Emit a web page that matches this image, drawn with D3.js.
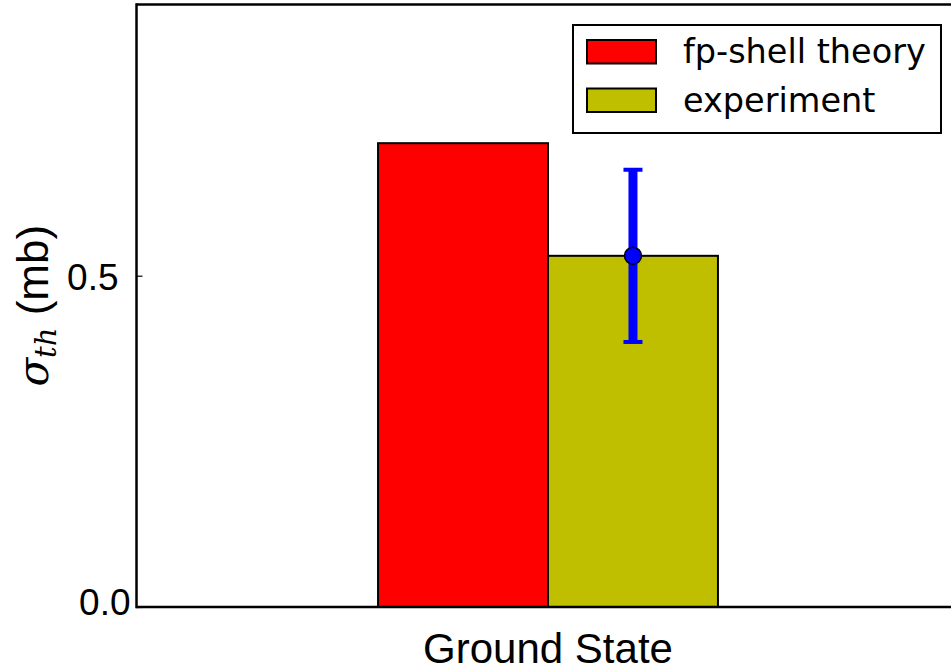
<!DOCTYPE html>
<html>
<head>
<meta charset="utf-8">
<script src="https://cdn.jsdelivr.net/npm/d3@7"></script>
<style>
  html, body { margin: 0; padding: 0; background: #fff; }
  svg { display: block; }
</style>
</head>
<body>
<svg id="chart" width="951" height="672"></svg>
<script>
// ---- data ----
const categories = ["Ground State"];
const seriesNames = ["fp-shell theory", "experiment"];
const theoryValues = [0.70];
const experimentValues = [0.53];
const experimentErrors = [0.13];
const yTicks = [0.0, 0.5];
const yTickLabels = ["0.0", "0.5"];

// ---- layout ----
const W = 951, H = 672;
const plot = { left: 136.5, top: 4.5, right: 959.5, bottom: 607 };
const colors = ["#ff0000", "#bfbf00"];

const svg = d3.select("#chart");

const x = d3.scaleLinear().domain([0, 2]).range([plot.left, plot.right]);
const y = d3.scaleLinear().domain([0, 0.9093]).range([plot.bottom, plot.top]);
const barW = 0.413;
const catPos = categories.map((c, i) => i + 1);

svg.append("defs").append("clipPath").attr("id", "clip")
  .append("rect").attr("x", plot.left).attr("y", plot.top)
  .attr("width", plot.right - plot.left).attr("height", plot.bottom - plot.top);

const g = svg.append("g").attr("clip-path", "url(#clip)");

// bars
const seriesData = [theoryValues, experimentValues];
seriesData.forEach((vals, s) => {
  g.selectAll(null).data(vals).enter().append("rect")
    .attr("x", (d, i) => s === 0 ? x(catPos[i] - barW) : x(catPos[i]))
    .attr("y", d => y(d))
    .attr("width", x(barW) - x(0))
    .attr("height", d => y(0) - y(d))
    .attr("fill", colors[s])
    .attr("stroke", "#000")
    .attr("stroke-width", 2);
});

// error bars
experimentValues.forEach((v, i) => {
  const cx = x(catPos[i] + barW / 2);
  const e = experimentErrors[i];
  g.append("line").attr("x1", cx).attr("x2", cx)
    .attr("y1", y(v - e)).attr("y2", y(v + e))
    .attr("stroke", "#0000ff").attr("stroke-width", 9);
  [v - e, v + e].forEach(t => {
    g.append("line").attr("x1", cx - 9.5).attr("x2", cx + 9.5)
      .attr("y1", y(t)).attr("y2", y(t))
      .attr("stroke", "#0000ff").attr("stroke-width", 4);
  });
  g.append("circle").attr("cx", cx).attr("cy", y(v)).attr("r", 8.5)
    .attr("fill", "#0000ff").attr("stroke", "#000").attr("stroke-width", 1.5);
});

// axes frame
svg.append("line").attr("x1", plot.left).attr("x2", W + 5).attr("y1", plot.top).attr("y2", plot.top)
  .attr("stroke", "#000").attr("stroke-width", 2.5);
svg.append("line").attr("x1", plot.left).attr("x2", W + 5).attr("y1", plot.bottom).attr("y2", plot.bottom)
  .attr("stroke", "#000").attr("stroke-width", 2.5);
svg.append("line").attr("x1", plot.left).attr("x2", plot.left).attr("y1", plot.top - 1.25).attr("y2", plot.bottom + 1.25)
  .attr("stroke", "#000").attr("stroke-width", 2.5);

// y axis ticks (inside) and labels
const yAxis = d3.axisLeft(y).tickValues(yTicks).tickSizeInner(-6).tickSizeOuter(0)
  .tickPadding(18).tickFormat((d, i) => yTickLabels[i]);
const ya = svg.append("g").attr("transform", `translate(${plot.left},0)`).call(yAxis);
ya.select(".domain").remove();
ya.selectAll(".tick line").attr("stroke", "#000").attr("stroke-width", 1.2);
ya.selectAll(".tick text").attr("font-family", "Liberation Sans, Arial, sans-serif")
  .attr("font-size", 37).attr("fill", "#000").attr("dy", "0.36em");
ya.selectAll(".tick text").filter(d => d === 0).attr("dx", 12).attr("dy", "0.2em");

// x category label
svg.selectAll(".xcat").data(categories).enter().append("text")
  .attr("x", (d, i) => x(catPos[i])).attr("y", 663)
  .attr("text-anchor", "middle")
  .attr("font-family", "Liberation Sans, Arial, sans-serif").attr("font-size", 42)
  .attr("fill", "#000").text(d => d);

// y label
const yl = svg.append("text")
  .attr("transform", `translate(48,${(plot.top + plot.bottom) / 2}) rotate(-90)`)
  .attr("text-anchor", "middle").attr("fill", "#000");
yl.append("tspan").attr("font-family", "DejaVu Serif, serif").attr("font-style", "italic")
  .attr("font-size", 42).text("σ");
yl.append("tspan").attr("font-family", "DejaVu Serif, serif").attr("font-style", "italic")
  .attr("font-size", 29).attr("dy", 8).text("th");
yl.append("tspan").attr("font-family", "Liberation Sans, Arial, sans-serif")
  .attr("font-size", 44).attr("dy", -8).text("\u00a0(mb)");

// legend
const lg = svg.append("g");
lg.append("rect").attr("x", 573).attr("y", 25).attr("width", 368).attr("height", 108)
  .attr("fill", "#fff").attr("stroke", "#000").attr("stroke-width", 2);
seriesNames.forEach((name, i) => {
  const yy = 40 + i * 48.5;
  lg.append("rect").attr("x", 587).attr("y", yy).attr("width", 69).attr("height", 23.5)
    .attr("fill", colors[i]).attr("stroke", "#000").attr("stroke-width", 2);
  lg.append("text").attr("x", 683).attr("y", yy + 23)
    .attr("font-family", "DejaVu Sans, sans-serif").attr("font-size", 33.5)
    .attr("fill", "#000").text(name);
});
</script>
</body>
</html>
